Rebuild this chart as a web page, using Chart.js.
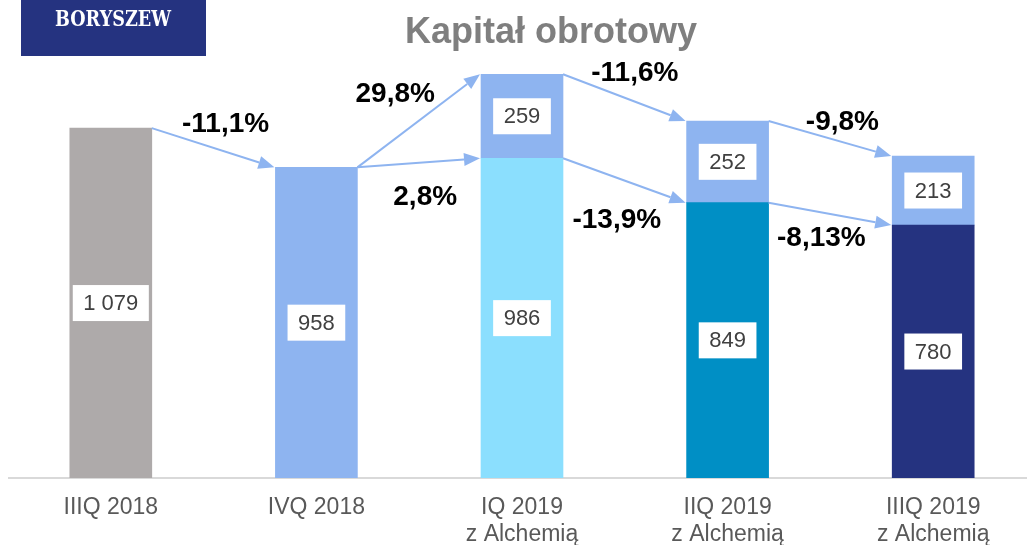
<!DOCTYPE html>
<html>
<head>
<meta charset="utf-8">
<script src="https://cdn.jsdelivr.net/npm/chart.js@4"></script>
<style>
html, body { margin: 0; padding: 0; background: #fff; overflow: hidden; }
#wrap { position: absolute; left: 8px; top: 0; width: 1028px; height: 545px; }
</style>
</head>
<body>
<div id="wrap"><canvas id="capitalChart"></canvas></div>
<script>
// quarters on the x axis
var quarters = [['IIIQ 2018'], ['IVQ 2018'], ['IQ 2019', 'z Alchemią'], ['IIQ 2019', 'z Alchemią'], ['IIIQ 2019', 'z Alchemią']];
var baseValues = [1079, 958, 986, 849, 780];
var topValues = [null, null, 259, 252, 213];
var baseColors = ['#AEAAAA', '#8EB4F0', '#8BDFFE', '#008FC5', '#253380'];
var changeLabels = ['-11,1%', '29,8%', '2,8%', '-11,6%', '-13,9%', '-9,8%', '-8,13%'];
// arrows: from quarter / level -> to quarter / level
var arrowLinks = [[0, 'total', 1, 'total'], [1, 'total', 2, 'total'], [1, 'total', 2, 'base'],
                  [2, 'total', 3, 'total'], [2, 'base', 3, 'base'], [3, 'total', 4, 'total'], [3, 'base', 4, 'base']];
// where the % text sits relative to the middle of its arrow
var labelOffsets = [[12, -23], [-24, -27], [6, 34], [10, -24], [-8, 40], [12, -16], [-9, 24]];

var BAR_W = 82;

function fmt(v) {
    return String(v).replace(/\B(?=(\d{3})+(?!\d))/g, ' ');
}

var decorations = {
    id: 'decorations',
    beforeDraw: function(chart) {
        var c = chart.ctx;
        c.save();
        // logo
        c.fillStyle = '#253380';
        c.fillRect(13, 0, 185, 56);
        c.fillStyle = '#fff';
        c.font = 'bold 22px "DejaVu Serif"';
        c.textAlign = 'center';
        c.textBaseline = 'alphabetic';
        c.fillText('BORYSZEW', 105, 26, 116);
        // title
        c.fillStyle = '#7F7F7F';
        c.font = 'bold 36px "Liberation Sans", Arial, sans-serif';
        c.fillText('Kapitał obrotowy', 543, 43);
        c.restore();
    },
    afterDatasetsDraw: function(chart) {
        var c = chart.ctx;
        var xs = chart.scales.x, ys = chart.scales.y;
        c.save();

        // arrows between bars
        function levelY(i, level) {
            var v = baseValues[i];
            if (level === 'total') v += (topValues[i] || 0);
            return ys.getPixelForValue(v);
        }
        c.strokeStyle = '#8EB4F0';
        c.fillStyle = '#8EB4F0';
        c.lineWidth = 2;
        arrowLinks.forEach(function(a, k) {
            var x1 = xs.getPixelForValue(a[0]) + BAR_W / 2;
            var y1 = levelY(a[0], a[1]);
            var x2 = xs.getPixelForValue(a[2]) - BAR_W / 2 - 1;
            var y2 = levelY(a[2], a[3]);
            var ang = Math.atan2(y2 - y1, x2 - x1);
            var hl = 16, hw = 6.5;
            var bx = x2 - hl * Math.cos(ang), by = y2 - hl * Math.sin(ang);
            c.beginPath();
            c.moveTo(x1, y1);
            c.lineTo(bx, by);
            c.stroke();
            c.beginPath();
            c.moveTo(x2, y2);
            c.lineTo(bx + hw * Math.sin(ang), by - hw * Math.cos(ang));
            c.lineTo(bx - hw * Math.sin(ang), by + hw * Math.cos(ang));
            c.closePath();
            c.fill();
        });

        // percentage labels
        c.fillStyle = '#000';
        c.font = 'bold 28px "Liberation Sans", Arial, sans-serif';
        c.textAlign = 'center';
        c.textBaseline = 'middle';
        arrowLinks.forEach(function(a, k) {
            var mx = (xs.getPixelForValue(a[0]) + xs.getPixelForValue(a[2])) / 2;
            var my = (levelY(a[0], a[1]) + levelY(a[2], a[3])) / 2;
            c.fillText(changeLabels[k], mx + labelOffsets[k][0], my + labelOffsets[k][1]);
        });

        // value boxes
        c.font = '22px "Liberation Sans", Arial, sans-serif';
        chart.data.datasets.forEach(function(ds, di) {
            var meta = chart.getDatasetMeta(di);
            meta.data.forEach(function(bar, i) {
                var v = ds.data[i];
                if (v == null) return;
                var txt = fmt(v);
                var cy = (bar.y + bar.base) / 2;
                var w = c.measureText(txt).width + 21;
                c.fillStyle = '#fff';
                c.fillRect(bar.x - w / 2, cy - 18, w, 36);
                c.fillStyle = '#404040';
                c.fillText(txt, bar.x, cy + 1);
            });
        });
        c.restore();
    }
};

var ctx = document.getElementById('capitalChart').getContext('2d');
var capitalChart = new Chart(ctx, {
    type: 'bar',
    data: {
        labels: quarters,
        datasets: [{
            label: 'base',
            data: baseValues,
            backgroundColor: baseColors,
            barThickness: BAR_W,
            borderWidth: 0
        }, {
            label: 'top',
            data: topValues,
            backgroundColor: '#8EB4F0',
            barThickness: BAR_W,
            borderWidth: 0
        }]
    },
    options: {
        responsive: true,
        maintainAspectRatio: false,
        animation: false,
        layout: { padding: { top: 24, left: 0, right: 0, bottom: 0 } },
        scales: {
            x: {
                stacked: true,
                grid: { display: false, drawTicks: false },
                border: { display: true, color: '#D9D9D9', width: 2 },
                ticks: {
                    color: '#595959',
                    padding: 16,
                    maxRotation: 0,
                    font: { family: '"Liberation Sans", Arial, sans-serif', size: 23, lineHeight: 1.18 }
                },
                afterFit: function(s) { s.height = 67; }
            },
            y: {
                stacked: true,
                display: false,
                min: 0,
                max: 1400
            }
        },
        plugins: {
            legend: { display: false },
            tooltip: { enabled: false }
        }
    },
    plugins: [decorations]
});
</script>
</body>
</html>
